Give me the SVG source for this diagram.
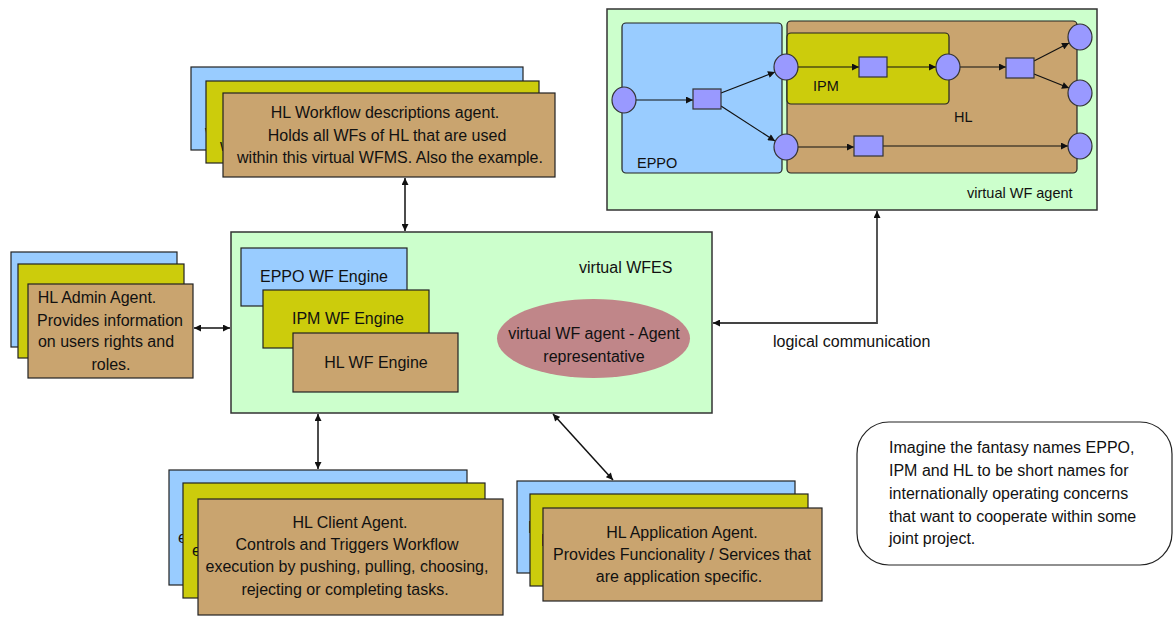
<svg xmlns="http://www.w3.org/2000/svg" width="1174" height="617" viewBox="0 0 1174 617">
<defs>
<marker id="ah" viewBox="0 0 10 10" refX="10" refY="5" markerWidth="8" markerHeight="7" markerUnits="userSpaceOnUse" orient="auto-start-reverse">
<path d="M0,0 L10,5 L0,10 z" fill="#111"/>
</marker>
<style>
text{font-family:"Liberation Sans",Arial,sans-serif;font-size:16px;fill:#111}
.s{font-size:14.5px}
.m{text-anchor:middle}
.bl{fill:#99ccff;stroke:#222;stroke-width:1.2}
.ol{fill:#cccc0c;stroke:#222;stroke-width:1.2}
.br{fill:#c9a46f;stroke:#222;stroke-width:1.2}
.gr{fill:#ccffcc;stroke:#333;stroke-width:1.5}
.pl{fill:#9999ff;stroke:#333;stroke-width:1.2}
.c{fill:none;stroke:#111;stroke-width:1.5}
.lc{fill:none;stroke:#444;stroke-width:1.8}
.w{fill:none;stroke:#111;stroke-width:1.2;marker-end:url(#ah)}
.d{marker-start:url(#ah);marker-end:url(#ah)}
</style>
</defs>
<rect width="1174" height="617" fill="#fff"/>

<g id="virtual-wf-agent">
<rect class="gr" x="607" y="9" width="490" height="201"/>
<rect class="bl" x="622" y="23" width="160" height="150" rx="4"/>
<rect class="br" x="787" y="21" width="290" height="152" rx="4"/>
<rect class="ol" x="787" y="33" width="162" height="71" rx="4"/>
<text class="s" x="637" y="168">EPPO</text>
<text class="s" x="813" y="91">IPM</text>
<text class="s" x="954" y="122">HL</text>
<text class="s" x="967" y="198">virtual WF agent</text>
<g id="wf-arcs">
<path class="w" d="M636,100 H693"/>
<path class="w" d="M721,93 L775,72"/>
<path class="w" d="M721,106 L775,141"/>
<path class="w" d="M798,67 H859"/>
<path class="w" d="M887,67 H936"/>
<path class="w" d="M960,67 H1006"/>
<path class="w" d="M1034,61 L1069,43"/>
<path class="w" d="M1034,74 L1069,88"/>
<path class="w" d="M798,147 H854"/>
<path class="w" d="M883,146 H1068"/>
</g>
<ellipse class="pl" cx="624" cy="100" rx="12" ry="13"/>
<rect class="pl" x="693" y="89" width="28" height="20"/>
<ellipse class="pl" cx="786" cy="67" rx="12" ry="13"/>
<ellipse class="pl" cx="786" cy="147" rx="12" ry="13"/>
<rect class="pl" x="859" y="57" width="28" height="20"/>
<ellipse class="pl" cx="948" cy="67" rx="12" ry="13"/>
<rect class="pl" x="1006" y="58" width="28" height="20"/>
<ellipse class="pl" cx="1080" cy="37" rx="12" ry="13"/>
<ellipse class="pl" cx="1080" cy="93" rx="12" ry="13"/>
<ellipse class="pl" cx="1080" cy="146" rx="12" ry="13"/>
<rect class="pl" x="854" y="136" width="29" height="20"/>
</g>

<g id="workflow-descriptions-agent">
<rect class="bl" x="191" y="67" width="332" height="83"/>
<text x="205" y="137">w</text>
<rect class="ol" x="206" y="81" width="333" height="82"/>
<text x="220" y="151">w</text>
<rect class="br" x="223" y="93" width="332" height="84"/>
<text class="m" x="385" y="118">HL Workflow descriptions agent.</text>
<text class="m" x="387" y="141">Holds all WFs of HL that are used</text>
<text class="m" x="390" y="163">within this virtual WFMS. Also the example.</text>
</g>

<g id="admin-agent">
<rect class="bl" x="11" y="252" width="166" height="95"/>
<rect class="ol" x="18" y="264" width="166" height="94"/>
<rect class="br" x="28" y="284" width="165" height="94"/>
<text class="m" x="97" y="303">HL Admin Agent.</text>
<text class="m" x="110" y="326">Provides information</text>
<text class="m" x="106" y="347">on users rights and</text>
<text class="m" x="111" y="370">roles.</text>
</g>

<g id="virtual-wfes">
<rect class="gr" x="231" y="232" width="481" height="181"/>
<text x="579" y="273">virtual WFES</text>
<rect class="bl" x="241" y="248" width="166" height="58"/>
<text class="m" x="324" y="282">EPPO WF Engine</text>
<rect class="ol" x="263" y="290" width="166" height="58"/>
<text class="m" x="348" y="324">IPM WF Engine</text>
<rect class="br" x="293" y="333" width="165" height="59"/>
<text class="m" x="376" y="368">HL WF Engine</text>
<ellipse cx="593.5" cy="338.5" rx="96.5" ry="39.5" fill="#c08689"/>
<text class="m" x="594" y="339">virtual WF agent - Agent</text>
<text class="m" x="594" y="362">representative</text>
</g>

<g id="client-agent">
<rect class="bl" x="169" y="470" width="298" height="115"/>
<text x="178" y="543">e</text>
<rect class="ol" x="183" y="483" width="302" height="115"/>
<text x="192" y="556">e</text>
<rect class="br" x="198" y="499" width="305" height="116"/>
<text class="m" x="350" y="528">HL Client Agent.</text>
<text class="m" x="347" y="550">Controls and Triggers Workflow</text>
<text class="m" x="347" y="572">execution by pushing, pulling, choosing,</text>
<text class="m" x="345" y="595">rejecting or completing tasks.</text>
</g>

<g id="application-agent">
<rect class="bl" x="517" y="481" width="278" height="92"/>
<text x="528" y="533">P</text>
<rect class="ol" x="530" y="494" width="278" height="92"/>
<text x="541" y="546">P</text>
<rect class="br" x="543" y="508" width="279" height="93"/>
<text class="m" x="682" y="538">HL Application Agent.</text>
<text class="m" x="682" y="560">Provides Funcionality / Services that</text>
<text class="m" x="679" y="582">are application specific.</text>
</g>

<g id="note">
<rect x="857" y="422" width="315" height="143" rx="32" fill="#fff" stroke="#222" stroke-width="1.2"/>
<text x="889" y="453">Imagine the fantasy names EPPO,</text>
<text x="889" y="476">IPM and HL to be short names for</text>
<text x="889" y="499">internationally operating concerns</text>
<text x="889" y="522">that want to cooperate within some</text>
<text x="889" y="544">joint project.</text>
</g>

<g id="connectors">
<path class="c d" d="M405,178 V231"/>
<path class="c d" d="M194,328 H230"/>
<path class="c d" d="M318,414 V469"/>
<path class="c d" d="M553,414 L613,480"/>
<path class="lc d" d="M713,323 H877 V211"/>
<text x="773" y="347">logical communication</text>
</g>
</svg>
